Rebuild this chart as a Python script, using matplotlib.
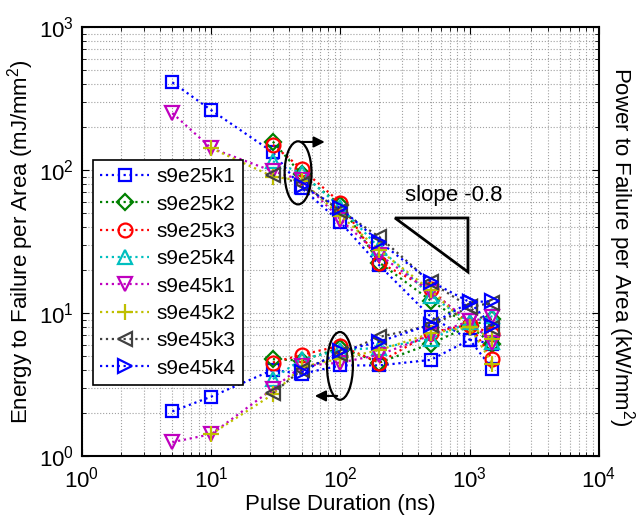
import matplotlib
matplotlib.use('Agg')
import matplotlib.pyplot as plt
from matplotlib.patches import Ellipse, Polygon

plt.rcParams['font.family'] = ['Liberation Sans', 'DejaVu Sans']
plt.rcParams['mathtext.fontset'] = 'custom'
plt.rcParams['mathtext.rm'] = 'Liberation Sans'
plt.rcParams['mathtext.default'] = 'regular'

# pulse durations (ns)
pulseAll = [5, 10, 30, 50, 100, 200, 500, 1000, 1500]

seriesNames = ['s9e25k1', 's9e25k2', 's9e25k3', 's9e25k4',
               's9e45k1', 's9e45k2', 's9e45k3', 's9e45k4']

# first pulse index of each series
startIdx = [0, 2, 2, 2, 0, 1, 2, 3]

# energy to failure per area (mJ/mm^2)
energy = [
    [2.05, 2.6, 4.0, 3.75, 4.3, 4.3, 4.7, 6.5, 6.1],
    [4.75, 4.65, 5.7, 4.5, 6.1, 8.1, 9.1],
    [4.5, 5.1, 5.9, 4.5, 7.3, 8.3, 7.1],
    [3.45, 4.75, 5.5, 5.7, 6.6, 8.6, 9.5],
    [1.25, 1.42, 2.95, 4.25, 4.5, 5.1, 7.0, 8.8, 9.3],
    [1.42, 2.7, 4.2, 4.8, 5.5, 7.2, 8.0, 6.6],
    [2.75, 4.0, 5.2, 6.8, 8.2, 11.0, 11.8],
    [3.85, 5.4, 6.3, 8.3, 11.9, 12.1],
]

# power to failure per area (kW/mm^2)
power = [
    [410, 262, 133, 75, 43, 21.5, 9.4, 6.5, 4.05],
    [158, 93, 57, 22.5, 12.2, 8.1, 6.05],
    [150, 102, 59, 22.5, 14.6, 8.3, 4.75],
    [115, 95, 55, 28.5, 13.2, 8.6, 6.3],
    [250, 142, 98, 85, 45, 25.5, 14, 8.8, 6.2],
    [142, 90, 84, 48, 27.5, 14.4, 8.0, 4.4],
    [92, 80, 52, 34, 16.4, 11.0, 7.9],
    [77, 54, 31.5, 16.6, 11.9, 8.1],
]

colors = ['#0000ff', '#008000', '#ff0000', '#00bfbf',
          '#bf00bf', '#bfbf00', '#404040', '#0000ff']
markers = ['s', 'D', 'o', '^', 'v', '+', '<', '>']
msizes = [9, 8, 10, 10, 10, 11, 10, 10]

fig = plt.figure(figsize=(6.37, 5.15), dpi=100)
ax = fig.add_axes([0.1287, 0.1146, 0.8116, 0.833])

for i, name in enumerate(seriesNames):
    xs = pulseAll[startIdx[i]:]
    style = dict(color=colors[i], linestyle=':', linewidth=1.6,
                 marker=markers[i], markersize=msizes[i],
                 markerfacecolor='none', markeredgewidth=1.6)
    ax.plot(xs, energy[i], label=name, **style)
    ax.plot(xs, power[i], **style)

ax.set_xscale('log')
ax.set_yscale('log')
ax.set_xlim(1, 1e4)
ax.set_ylim(1, 1e3)
ax.grid(True, which='both', linestyle=':', color='#a0a0a0', linewidth=0.8)
ax.tick_params(which='both', direction='in', top=True, right=True, labelsize=16)
ax.tick_params(axis='x', which='major', pad=8)
ax.tick_params(axis='y', which='major', pad=6)
ax.tick_params(which='major', length=5)
ax.tick_params(which='minor', length=3)
for s in ax.spines.values():
    s.set_linewidth(1.5)

ax.set_xlabel('Pulse Duration (ns)', fontsize=16, labelpad=1)
ax.set_ylabel('Energy to Failure per Area (mJ/mm$^2$)', fontsize=16, labelpad=2)
fig.text(0.975, 0.52, 'Power to Failure per Area (kW/mm$^2$)', fontsize=16,
         rotation=270, ha='center', va='center')

# ellipses and arrows marking which branch goes with which axis
ax.add_patch(Ellipse((0.418, 0.660), 0.052, 0.147, transform=ax.transAxes,
                     fill=False, edgecolor='black', linewidth=1.6, zorder=5))
ax.annotate('', xy=(0.475, 0.732), xytext=(0.418, 0.732), xycoords='axes fraction',
            arrowprops=dict(arrowstyle='-|>', color='black', lw=1.5, mutation_scale=16))
ax.add_patch(Ellipse((0.499, 0.21), 0.050, 0.158, transform=ax.transAxes,
                     fill=False, edgecolor='black', linewidth=1.6, zorder=5))
ax.annotate('', xy=(0.445, 0.14), xytext=(0.499, 0.14), xycoords='axes fraction',
            arrowprops=dict(arrowstyle='-|>', color='black', lw=1.5, mutation_scale=16))

# slope triangle
ax.add_patch(Polygon([(0.6054, 0.5548), (0.7466, 0.5548), (0.7466, 0.4289)],
                     closed=True, fill=False, edgecolor='black', linewidth=2,
                     transform=ax.transAxes, zorder=5))
ax.text(0.625, 0.608, 'slope -0.8', transform=ax.transAxes, fontsize=16,
        ha='left', va='center')

leg = ax.legend(loc='upper left', bbox_to_anchor=(0.021, 0.690), fontsize=15,
                frameon=True, fancybox=False, edgecolor='black', framealpha=1,
                handlelength=2.35, handletextpad=0.35, labelspacing=0.4,
                borderpad=0.35, borderaxespad=0)
leg.get_frame().set_linewidth(1.2)

fig.savefig('out.png', dpi=100)
